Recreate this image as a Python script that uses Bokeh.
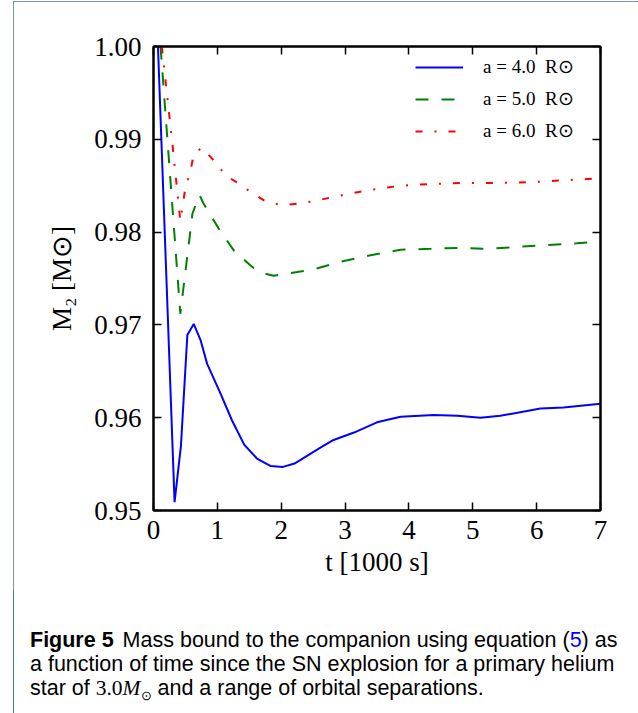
from bokeh.plotting import figure
from bokeh.layouts import column
from bokeh.models import (Range1d, FixedTicker, PrintfTickFormatter, LinearAxis,
                          Legend, LegendItem, Div)
from bokeh.embed import file_html
from bokeh.resources import INLINE

# ---------------- data ----------------
t_a4 = [0.07, 0.33, 0.43, 0.53, 0.63, 0.74, 0.84, 1.05, 1.23, 1.42, 1.62, 1.83,
        2.03, 2.22, 2.43, 2.62, 2.82, 3.14, 3.50, 3.87, 4.39, 4.76, 5.12, 5.43,
        6.06, 6.42, 7.00]
m_a4 = [1.0000, 0.9509, 0.9570, 0.9689, 0.9701, 0.9683, 0.9658, 0.9626, 0.9597,
        0.9571, 0.9556, 0.9548, 0.9547, 0.9551, 0.9560, 0.9568, 0.9576, 0.9584,
        0.9595, 0.9601, 0.9603, 0.9602, 0.9600, 0.9602, 0.9610, 0.9611, 0.9615]

t_a5 = [0.11, 0.42, 0.61, 0.72, 0.79, 1.02, 1.26, 1.52, 1.65, 1.88, 2.25, 2.51,
        2.93, 3.40, 3.87, 4.34, 4.76, 5.23, 5.69, 6.16, 6.63, 7.00]
m_a5 = [1.0000, 0.9712, 0.9820, 0.9840, 0.9830, 0.9804, 0.9780, 0.9764, 0.9757,
        0.9753, 0.9757, 0.9760, 0.9768, 0.9775, 0.9781, 0.9782, 0.9783, 0.9782,
        0.9784, 0.9786, 0.9788, 0.9790]

t_a6 = [0.13, 0.29, 0.42, 0.50, 0.58, 0.63, 0.76, 0.96, 1.13, 1.34, 1.57, 1.78,
        2.04, 2.30, 2.56, 2.82, 3.35, 3.87, 4.39, 4.91, 5.43, 5.96, 6.48, 7.00]
m_a6 = [1.0000, 0.9899, 0.9812, 0.9848, 0.9866, 0.9884, 0.9891, 0.9876, 0.9861,
        0.9852, 0.9841, 0.9832, 0.9829, 0.9831, 0.9834, 0.9838, 0.9845, 0.9850,
        0.9852, 0.9853, 0.9853, 0.9854, 0.9856, 0.9858]

series_labels = ["a = 4.0\u2002R⊙", "a = 5.0\u2002R⊙", "a = 6.0\u2002R⊙"]
x_ticks = [0, 1, 2, 3, 4, 5, 6, 7]
y_ticks = [0.95, 0.96, 0.97, 0.98, 0.99, 1.00]

# ---------------- layout (page pixels) ----------------
OX, OY = 13, 1            # top-left of the framed box on the page
BOX_R, BOX_B = 637, 711   # right / bottom of the framed box
CAP_TOP = 590             # where the caption panel starts
FL, FR, FT, FB = 153, 600, 46, 510   # plot frame edges
CW = BOX_R - OX
HA = CAP_TOP - OY
HB = BOX_B - CAP_TOP
SERIF = "Liberation Serif"
BORDER = "#4f72a0"

p = figure(width=CW, height=HA, output_backend="svg", toolbar_location=None,
           x_range=Range1d(0, 7), y_range=Range1d(0.95, 1.0),
           min_border_left=FL - OX, min_border_right=BOX_R - FR,
           min_border_top=FT - OY, min_border_bottom=CAP_TOP - FB)
p.background_fill_color = "white"
p.border_fill_color = "white"
p.outline_line_color = "black"
p.outline_line_width = 2
p.grid.visible = False

for ax in (p.xaxis[0], p.yaxis[0]):
    ax.major_tick_in = 8
    ax.major_tick_out = 0
    ax.minor_tick_line_color = None
    ax.axis_line_width = 2
    ax.major_tick_line_width = 1.5
    ax.major_label_text_font = SERIF
    ax.major_label_text_font_size = "27px"
    ax.major_label_text_color = "black"
    ax.axis_label_text_font = SERIF
    ax.axis_label_text_font_size = "27px"
    ax.axis_label_text_font_style = "normal"
    ax.axis_label_text_color = "black"

p.xaxis[0].ticker = FixedTicker(ticks=x_ticks)
p.yaxis[0].ticker = FixedTicker(ticks=y_ticks)
p.yaxis[0].formatter = PrintfTickFormatter(format="%.2f")
p.xaxis[0].axis_label = "t [1000 s]"
p.yaxis[0].axis_label = "M₂ [M⊙]"
p.xaxis[0].major_label_standoff = 10
p.yaxis[0].major_label_standoff = 12
p.xaxis[0].axis_label_standoff = 5
p.yaxis[0].axis_label_standoff = 14

# mirrored tick marks on top and right (no labels drawn)
for loc, tks in (("above", x_ticks), ("right", y_ticks)):
    ax = LinearAxis(ticker=FixedTicker(ticks=tks))
    ax.major_tick_in = 8
    ax.major_tick_out = 0
    ax.minor_tick_line_color = None
    ax.axis_line_width = 2
    ax.major_tick_line_width = 1.5
    ax.major_label_text_color = None
    ax.major_label_text_font_size = "8px"
    ax.major_label_standoff = 0
    p.add_layout(ax, loc)

# ---------------- curves ----------------
r4 = p.line(t_a4, m_a4, line_color="#0000ff", line_width=2)
r5 = p.line(t_a5, m_a5, line_color="#008000", line_width=2, line_dash="13 13")
r6 = p.line(t_a6, m_a6, line_color="#ff0000", line_width=2, line_dash="7 12 2 12")

LEG_TOP = 64
legend = Legend(items=[LegendItem(label=series_labels[0], renderers=[r4]),
                       LegendItem(label=series_labels[1], renderers=[r5]),
                       LegendItem(label=series_labels[2], renderers=[r6])],
                location=(415 - FL, FB - (LEG_TOP + 78)),
                glyph_width=48, glyph_height=20, label_height=20, spacing=9,
                padding=0, margin=0, label_standoff=20,
                border_line_color=None, background_fill_alpha=0,
                label_text_font=SERIF, label_text_font_size="19px",
                label_text_color="black")
p.add_layout(legend)

# ---------------- caption ----------------
caption_lines = [
    '<b style="margin-right:3px">Figure 5</b> Mass bound to the companion using '
    'equation (<span style="color:#0000ff">5</span>) as',
    'a function of time since the SN explosion for a primary helium',
    'star of <span style="font-family:\'Liberation Serif\'">3.0<i>M</i></span>'
    '<span style="font-size:13px;position:relative;top:5px">&#8857;</span> '
    'and a range of orbital separations.',
]
caption_html = (
    '<div style="padding:33px 0 0 12px;font-family:\'Liberation Sans\';'
    'font-size:21.5px;line-height:24px;color:#000;white-space:nowrap">'
    + '<br>'.join(caption_lines) + '</div>'
)
cap = Div(text=caption_html, width=CW, height=HB)

page = column(p, cap, spacing=0,
              styles={"position": "relative",
                      "left": f"{OX}px", "top": f"{OY}px",
                      "outline": f"1.5px solid {BORDER}",
                      "outline-offset": "-1px"})

open("out.html", "w").write(file_html(page, INLINE))
